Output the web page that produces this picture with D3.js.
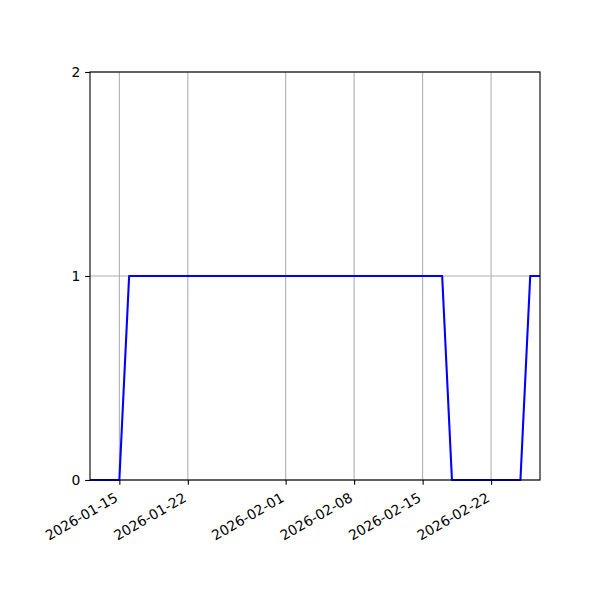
<!DOCTYPE html>
<html>
<head>
<meta charset="utf-8">
<script src="https://cdn.jsdelivr.net/npm/d3@7"></script>
<style>
  body { margin: 0; background: #fff; }
  text { font-family: "DejaVu Sans", sans-serif; }
</style>
</head>
<body>
<svg id="chart" width="600" height="600"></svg>
<script>
// daily series
const dates = [
  "2026-01-12", "2026-01-13", "2026-01-14", "2026-01-15", "2026-01-16",
  "2026-01-17", "2026-01-18", "2026-01-19", "2026-01-20", "2026-01-21",
  "2026-01-22", "2026-01-23", "2026-01-24", "2026-01-25", "2026-01-26",
  "2026-01-27", "2026-01-28", "2026-01-29", "2026-01-30", "2026-01-31",
  "2026-02-01", "2026-02-02", "2026-02-03", "2026-02-04", "2026-02-05",
  "2026-02-06", "2026-02-07", "2026-02-08", "2026-02-09", "2026-02-10",
  "2026-02-11", "2026-02-12", "2026-02-13", "2026-02-14", "2026-02-15",
  "2026-02-16", "2026-02-17", "2026-02-18", "2026-02-19", "2026-02-20",
  "2026-02-21", "2026-02-22", "2026-02-23", "2026-02-24", "2026-02-25",
  "2026-02-26", "2026-02-27"
];
const values = [
  0, 0, 0, 0, 1,
  1, 1, 1, 1, 1,
  1, 1, 1, 1, 1,
  1, 1, 1, 1, 1,
  1, 1, 1, 1, 1,
  1, 1, 1, 1, 1,
  1, 1, 1, 1, 1,
  1, 1, 0, 0, 0,
  0, 0, 0, 0, 0,
  1, 1
];
const xTickLabels = ["2026-01-15", "2026-01-22", "2026-02-01", "2026-02-08", "2026-02-15", "2026-02-22"];
const yTicks = [0, 1, 2];

const margin = {top: 72, right: 60, bottom: 120, left: 90};
const width = 600 - margin.left - margin.right;
const height = 600 - margin.top - margin.bottom;
const parseDate = d3.timeParse("%Y-%m-%d");
const fontPx = 13.9;

const data = dates.map((d, i) => ({date: parseDate(d), value: values[i]}));

const svg = d3.select('#chart')
    .append('g')
    .attr('transform', 'translate(' + margin.left + ',' + margin.top + ')');

const x = d3.scaleTime()
    .domain(d3.extent(data, d => d.date))
    .range([0, width]);
const y = d3.scaleLinear()
    .domain([0, 2])
    .range([height, 0]);

const xTicks = xTickLabels.map(parseDate);

// grid
svg.append("g")
    .selectAll("line")
    .data(xTicks)
    .enter()
    .append("line")
    .attr("x1", d => x(d)).attr("x2", d => x(d))
    .attr("y1", 0).attr("y2", height)
    .attr("stroke", "#b0b0b0")
    .attr("stroke-width", 1.1);
svg.append("g")
    .selectAll("line")
    .data(yTicks)
    .enter()
    .append("line")
    .attr("x1", 0).attr("x2", width)
    .attr("y1", d => y(d)).attr("y2", d => y(d))
    .attr("stroke", "#b0b0b0")
    .attr("stroke-width", 1.1);

// line
const line = d3.line()
    .x(d => x(d.date))
    .y(d => y(d.value));
svg.append("path")
    .datum(data)
    .attr("fill", "none")
    .attr("stroke", "#0000ff")
    .attr("stroke-width", 2.08)
    .attr("stroke-linejoin", "round")
    .attr("d", line);

// x axis
const xAxis = svg.append("g")
    .attr("transform", "translate(0," + height + ")")
    .call(d3.axisBottom(x)
        .tickValues(xTicks)
        .tickFormat(d3.timeFormat("%Y-%m-%d"))
        .tickSize(4.86)
        .tickPadding(4.86));
xAxis.select(".domain").remove();
xAxis.selectAll(".tick line").attr("stroke", "#000").attr("stroke-width", 1.1);
xAxis.selectAll("text")
    .attr("font-size", fontPx)
    .attr("fill", "#000")
    .attr("y", 0)
    .attr("dy", 0)
    .attr("text-anchor", "end")
    .attr("transform", "translate(-1,20.5)rotate(-30)");

// y axis
const yAxis = svg.append("g")
    .call(d3.axisLeft(y)
        .tickValues(yTicks)
        .tickFormat(d3.format("d"))
        .tickSize(4.86)
        .tickPadding(4.86));
yAxis.select(".domain").remove();
yAxis.selectAll(".tick line").attr("stroke", "#000").attr("stroke-width", 1.1);
yAxis.selectAll("text")
    .attr("font-size", fontPx)
    .attr("fill", "#000");

// frame
svg.append("rect")
    .attr("width", width)
    .attr("height", height)
    .attr("fill", "none")
    .attr("stroke", "#000")
    .attr("stroke-width", 1.1);
</script>
</body>
</html>
